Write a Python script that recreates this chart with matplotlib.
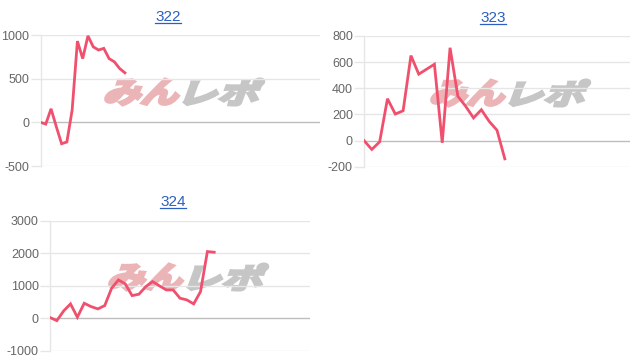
import matplotlib
matplotlib.use("Agg")
import matplotlib.pyplot as plt
from matplotlib.textpath import TextPath
from matplotlib.patches import PathPatch
from matplotlib.font_manager import FontProperties
from matplotlib.transforms import Affine2D
from matplotlib.lines import Line2D

# data
names = ["322", "323", "324"]
vals_322 = [0, -20, 155, -50, -245, -225, 140, 930, 730, 990, 865, 828, 847,
            730, 693, 617, 567]
vals_323 = [0, -68, -10, 320, 203, 228, 650, 508, 546, 584, -17, 710, 338,
            262, 173, 236, 147, 79, -140]
vals_324 = [20, -75, 225, 440, 30, 460, 357, 286, 388, 920, 1178, 1055, 695,
            738, 972, 1126, 994, 870, 870, 615, 563, 440, 818, 2050, 2030]
series = [vals_322, vals_323, vals_324]
n_slots = [54, 35, 39]
yticks = [[-500, 0, 500, 1000],
          [-200, 0, 200, 400, 600, 800],
          [-1000, 0, 1000, 2000, 3000]]

W, H = 640, 364
LINE = "#f0506e"
GRID = "#e6e6e6"
ZERO = "#bdbdbd"
LINK = "#2b5fc0"

# panel boxes in pixels (left, top, right, bottom), title centre, watermark centre
boxes = [(40.5, 35, 320, 166), (364, 36, 630, 166.7), (50, 220.7, 310, 350.7)]
title_pos = [(168, 17), (493, 18), (173, 202)]
mark_pos = [(184, 92), (510, 93), (188, 277)]

plt.rcParams['font.family'] = ['Liberation Sans', 'DejaVu Sans']

fig = plt.figure(figsize=(W / 100, H / 100), dpi=100)


def add_mark(cx, cy):
    prop = FontProperties(family='Noto Sans CJK JP', weight='bold')
    for txt, col, dx in [("みん", "#ebb5b8", -40), ("レポ", "#c6c6c6", 40)]:
        tp = TextPath((0, 0), txt, prop=prop, size=1)
        bb = tp.get_extents()
        sx = 72 / bb.width
        sy = 26 / bb.height
        tr = (Affine2D()
              .translate(-bb.x0 - bb.width / 2, -bb.y0 - bb.height / 2)
              .scale(sx, sy)
              .skew_deg(20, 0)
              .translate(cx + dx, H - cy)
              .scale(1 / W, 1 / H)) + fig.transFigure
        fig.patches.append(PathPatch(tp, facecolor=col, edgecolor=col, lw=2.2,
                                     joinstyle='miter', transform=tr,
                                     zorder=-1))


titles = []
for i, vals in enumerate(series):
    l, t, r, b = boxes[i]
    ax = fig.add_axes([l / W, (H - b) / H, (r - l) / W, (b - t) / H])
    ax.plot(range(len(vals)), vals, color=LINE, lw=2, solid_joinstyle='miter',
            zorder=6)
    ax.set_xlim(0, n_slots[i] - 1)
    ax.set_ylim(yticks[i][0], yticks[i][-1])
    ax.set_yticks(yticks[i])
    ax.set_yticklabels([str(v) for v in yticks[i]])
    ax.set_xticks([])
    for v in yticks[i]:
        ax.axhline(v, color=ZERO if v == 0 else GRID, lw=1, zorder=1)
    for s in ["top", "right", "bottom"]:
        ax.spines[s].set_visible(False)
    ax.spines["left"].set_color(GRID)
    ax.spines["left"].set_linewidth(1)
    ax.tick_params(axis='y', length=7, width=1, color=GRID, pad=1,
                   labelsize=9, labelcolor="#666666")
    ax.patch.set_alpha(0)
    tx, ty = title_pos[i]
    titles.append(fig.text(tx / W, 1 - ty / H, names[i], ha='center',
                           va='center', fontsize=11, color=LINK))
    add_mark(*mark_pos[i])

# underline the title links
fig.canvas.draw()
for tt in titles:
    bb = tt.get_window_extent()
    y = (bb.y0 + 1) / H
    fig.lines.append(Line2D([bb.x0 / W, bb.x1 / W], [y, y], color=LINK, lw=0.9,
                            transform=fig.transFigure))

fig.savefig("out.png", dpi=100)
